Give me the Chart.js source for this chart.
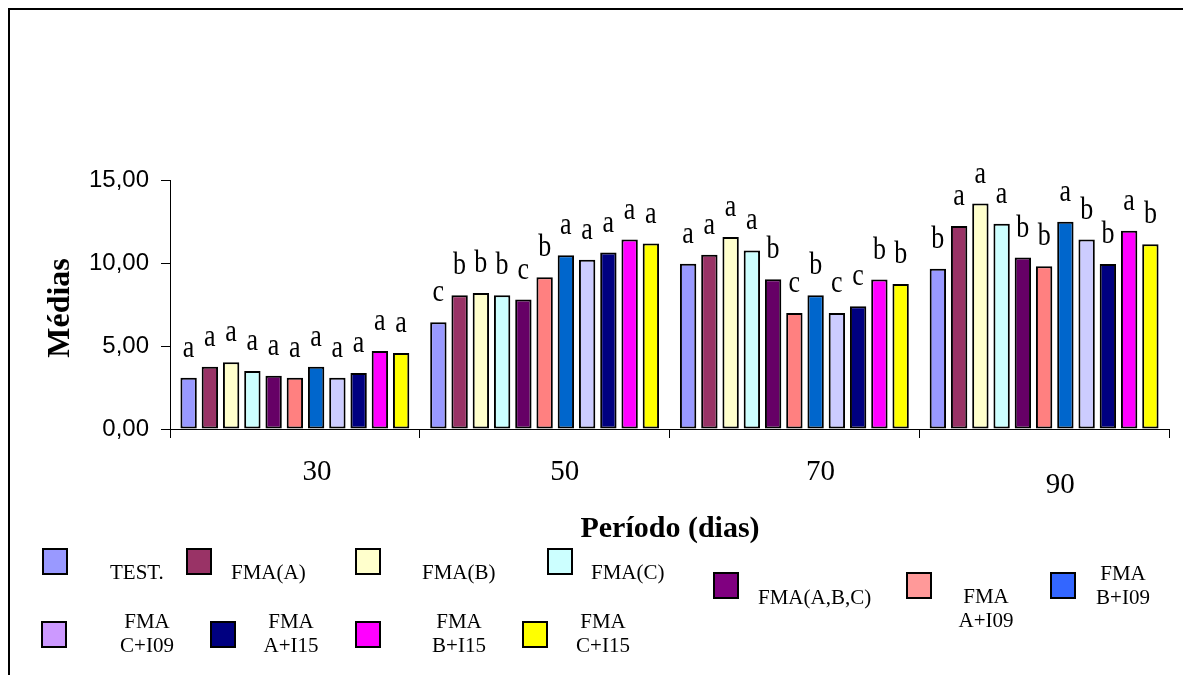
<!DOCTYPE html>
<html>
<head>
<meta charset="utf-8">
<script src="https://cdn.jsdelivr.net/npm/chart.js@4.4.1/dist/chart.umd.min.js"></script>
<style>
  html, body { margin: 0; padding: 0; background: #ffffff; }
  #wrap { position: relative; width: 1183px; height: 675px; }
  canvas { display: block; }
</style>
</head>
<body>
<div id="wrap"><canvas id="chart" width="1183" height="675"></canvas></div>
<script>
// Períodos de avaliação (dias)
const categories = ['30', '50', '70', '90'];

// Tratamentos
const seriesNames = ['TEST.', 'FMA(A)', 'FMA(B)', 'FMA(C)', 'FMA(A,B,C)',
  'FMA A+I09', 'FMA B+I09', 'FMA C+I09', 'FMA A+I15', 'FMA B+I15', 'FMA C+I15'];

// Médias por tratamento em cada período
const testMeans   = [3.09, 6.43, 9.96, 9.66];
const fmaA        = [3.75, 8.05, 10.50, 12.23];
const fmaB        = [4.02, 8.19, 11.57, 13.58];
const fmaC        = [3.49, 8.05, 10.76, 12.37];
const fmaABC      = [3.21, 7.80, 9.02, 10.33];
const fmaAI09     = [3.09, 9.14, 6.99, 9.80];
const fmaBI09     = [3.75, 10.46, 8.05, 12.49];
const fmaCI09     = [3.09, 10.20, 6.99, 11.41];
const fmaAI15     = [3.37, 10.63, 7.39, 9.94];
const fmaBI15     = [4.70, 11.41, 9.00, 11.95];
const fmaCI15     = [4.58, 11.17, 8.73, 11.13];

// Letras do teste de médias
const testLetters    = ['a', 'c', 'a', 'b'];
const fmaALetters    = ['a', 'b', 'a', 'a'];
const fmaBLetters    = ['a', 'b', 'a', 'a'];
const fmaCLetters    = ['a', 'b', 'a', 'a'];
const fmaABCLetters  = ['a', 'c', 'b', 'b'];
const fmaAI09Letters = ['a', 'b', 'c', 'b'];
const fmaBI09Letters = ['a', 'a', 'b', 'a'];
const fmaCI09Letters = ['a', 'a', 'c', 'b'];
const fmaAI15Letters = ['a', 'a', 'c', 'b'];
const fmaBI15Letters = ['a', 'a', 'b', 'a'];
const fmaCI15Letters = ['a', 'a', 'b', 'b'];

// Eixo Y
const yTickValues = [0, 5, 10, 15];
const yTitle = 'Médias';
const xTitle = 'Período (dias)';

const seriesValues = [testMeans, fmaA, fmaB, fmaC, fmaABC, fmaAI09, fmaBI09, fmaCI09, fmaAI15, fmaBI15, fmaCI15];
const seriesLetters = [testLetters, fmaALetters, fmaBLetters, fmaCLetters, fmaABCLetters,
  fmaAI09Letters, fmaBI09Letters, fmaCI09Letters, fmaAI15Letters, fmaBI15Letters, fmaCI15Letters];

// Cores das barras e das amostras da legenda
const barColors = ['#9999FF', '#993366', '#FFFFCC', '#CCFFFF', '#660066',
  '#FF8080', '#0066CC', '#CCCCFF', '#000080', '#FF00FF', '#FFFF00'];
const keyColors = ['#9999FF', '#993366', '#FFFFCC', '#CCFFFF', '#800080',
  '#FF9999', '#3366FF', '#CC99FF', '#000080', '#FF00FF', '#FFFF00'];

// Posição de cada item da legenda (amostra e texto)
const keyLayout = [
  { sx: 43,   sy: 549, tx: 110,  ty: 579, align: 'left' },
  { sx: 187,  sy: 549, tx: 231,  ty: 579, align: 'left' },
  { sx: 356,  sy: 549, tx: 422,  ty: 579, align: 'left' },
  { sx: 548,  sy: 549, tx: 591,  ty: 579, align: 'left' },
  { sx: 714,  sy: 573, tx: 758,  ty: 604, align: 'left' },
  { sx: 907,  sy: 573, tx: 986,  ty: 603, align: 'center' },
  { sx: 1051, sy: 573, tx: 1123, ty: 580, align: 'center' },
  { sx: 42,   sy: 622, tx: 147,  ty: 628, align: 'center' },
  { sx: 211,  sy: 622, tx: 291,  ty: 628, align: 'center' },
  { sx: 356,  sy: 622, tx: 459,  ty: 628, align: 'center' },
  { sx: 523,  sy: 622, tx: 603,  ty: 628, align: 'center' }
];

// Deslocamento dos rótulos de período
const catLabelShift = [{ dx: 22, dy: 0 }, { dx: 20, dy: 0 }, { dx: 26, dy: 0 }, { dx: 16, dy: 13 }];

const SERIF = '"Liberation Serif", "Times New Roman", serif';
const SANS = '"Liberation Sans", Arial, sans-serif';

const datasets = seriesNames.map((name, i) => ({
  label: name,
  data: seriesValues[i],
  backgroundColor: barColors[i],
  borderColor: '#000000',
  borderWidth: 2,
  borderSkipped: false,
  categoryPercentage: 0.936,
  barPercentage: 0.77
}));

const decorations = {
  id: 'decorations',
  beforeDraw(chart) {
    const ctx = chart.ctx;
    ctx.save();
    ctx.fillStyle = '#ffffff';
    ctx.fillRect(0, 0, chart.width, chart.height);
    // moldura
    ctx.strokeStyle = '#000000';
    ctx.lineWidth = 2;
    ctx.beginPath();
    ctx.moveTo(9, chart.height);
    ctx.lineTo(9, 9);
    ctx.lineTo(chart.width, 9);
    ctx.stroke();
    ctx.restore();
  },
  afterDatasetsDraw(chart) {
    const ctx = chart.ctx;
    ctx.save();
    ctx.fillStyle = '#000000';
    ctx.font = '26px ' + SERIF;
    ctx.textAlign = 'center';
    ctx.textBaseline = 'alphabetic';
    chart.data.datasets.forEach((ds, i) => {
      const meta = chart.getDatasetMeta(i);
      meta.data.forEach((bar, j) => {
        // letras levemente alongadas na vertical
        ctx.save();
        ctx.translate(bar.x, bar.y - 21);
        ctx.scale(1, 1.22);
        ctx.fillText(seriesLetters[i][j], 0, 0);
        ctx.restore();
      });
    });
    ctx.restore();
  },
  afterDraw(chart) {
    const ctx = chart.ctx;
    const xs = chart.scales.x;
    ctx.save();
    ctx.fillStyle = '#000000';

    // rótulos dos períodos
    ctx.font = '29px ' + SERIF;
    ctx.textAlign = 'center';
    ctx.textBaseline = 'alphabetic';
    categories.forEach((c, j) => {
      const x = xs.getPixelForValue(j) + catLabelShift[j].dx;
      ctx.fillText(c, x, 480 + catLabelShift[j].dy);
    });

    // título do eixo X
    ctx.font = 'bold 30px ' + SERIF;
    ctx.fillText(xTitle, 670, 537);

    // título do eixo Y
    ctx.save();
    ctx.translate(69, 308);
    ctx.rotate(-Math.PI / 2);
    ctx.font = 'bold 32px ' + SERIF;
    ctx.fillText(yTitle, 0, 0);
    ctx.restore();

    // legenda
    ctx.font = '21px ' + SERIF;
    seriesNames.forEach((name, i) => {
      const k = keyLayout[i];
      ctx.fillStyle = keyColors[i];
      ctx.fillRect(k.sx, k.sy, 24, 25);
      ctx.strokeStyle = '#000000';
      ctx.lineWidth = 2;
      ctx.strokeRect(k.sx, k.sy, 24, 25);
      ctx.fillStyle = '#000000';
      ctx.textAlign = k.align;
      const lines = name.split(' ');
      lines.forEach((ln, li) => ctx.fillText(ln, k.tx, k.ty + li * 24));
    });
    ctx.restore();
  }
};

new Chart(document.getElementById('chart'), {
  type: 'bar',
  data: { labels: categories, datasets },
  plugins: [decorations],
  options: {
    responsive: false,
    animation: false,
    layout: { padding: { left: 0, right: 14, top: 180, bottom: 0 } },
    plugins: { legend: { display: false }, tooltip: { enabled: false }, title: { display: false } },
    scales: {
      x: {
        ticks: { display: false },
        grid: { offset: true, drawOnChartArea: false, drawTicks: true, tickLength: 9, color: '#000000', lineWidth: 1 },
        border: { display: true, color: '#000000', width: 1 },
        afterFit(s) { s.height = 246; }
      },
      y: {
        min: 0,
        max: 15,
        afterBuildTicks(s) { s.ticks = yTickValues.map(v => ({ value: v })); },
        ticks: {
          color: '#000000',
          padding: 12,
          font: { family: SANS, size: 24 },
          callback: v => v.toFixed(2).replace('.', ',')
        },
        grid: { drawOnChartArea: false, drawTicks: true, tickLength: 9, color: '#000000', lineWidth: 1 },
        border: { display: true, color: '#000000', width: 1 },
        afterFit(s) { s.width = 170; }
      }
    }
  }
});
</script>
</body>
</html>
